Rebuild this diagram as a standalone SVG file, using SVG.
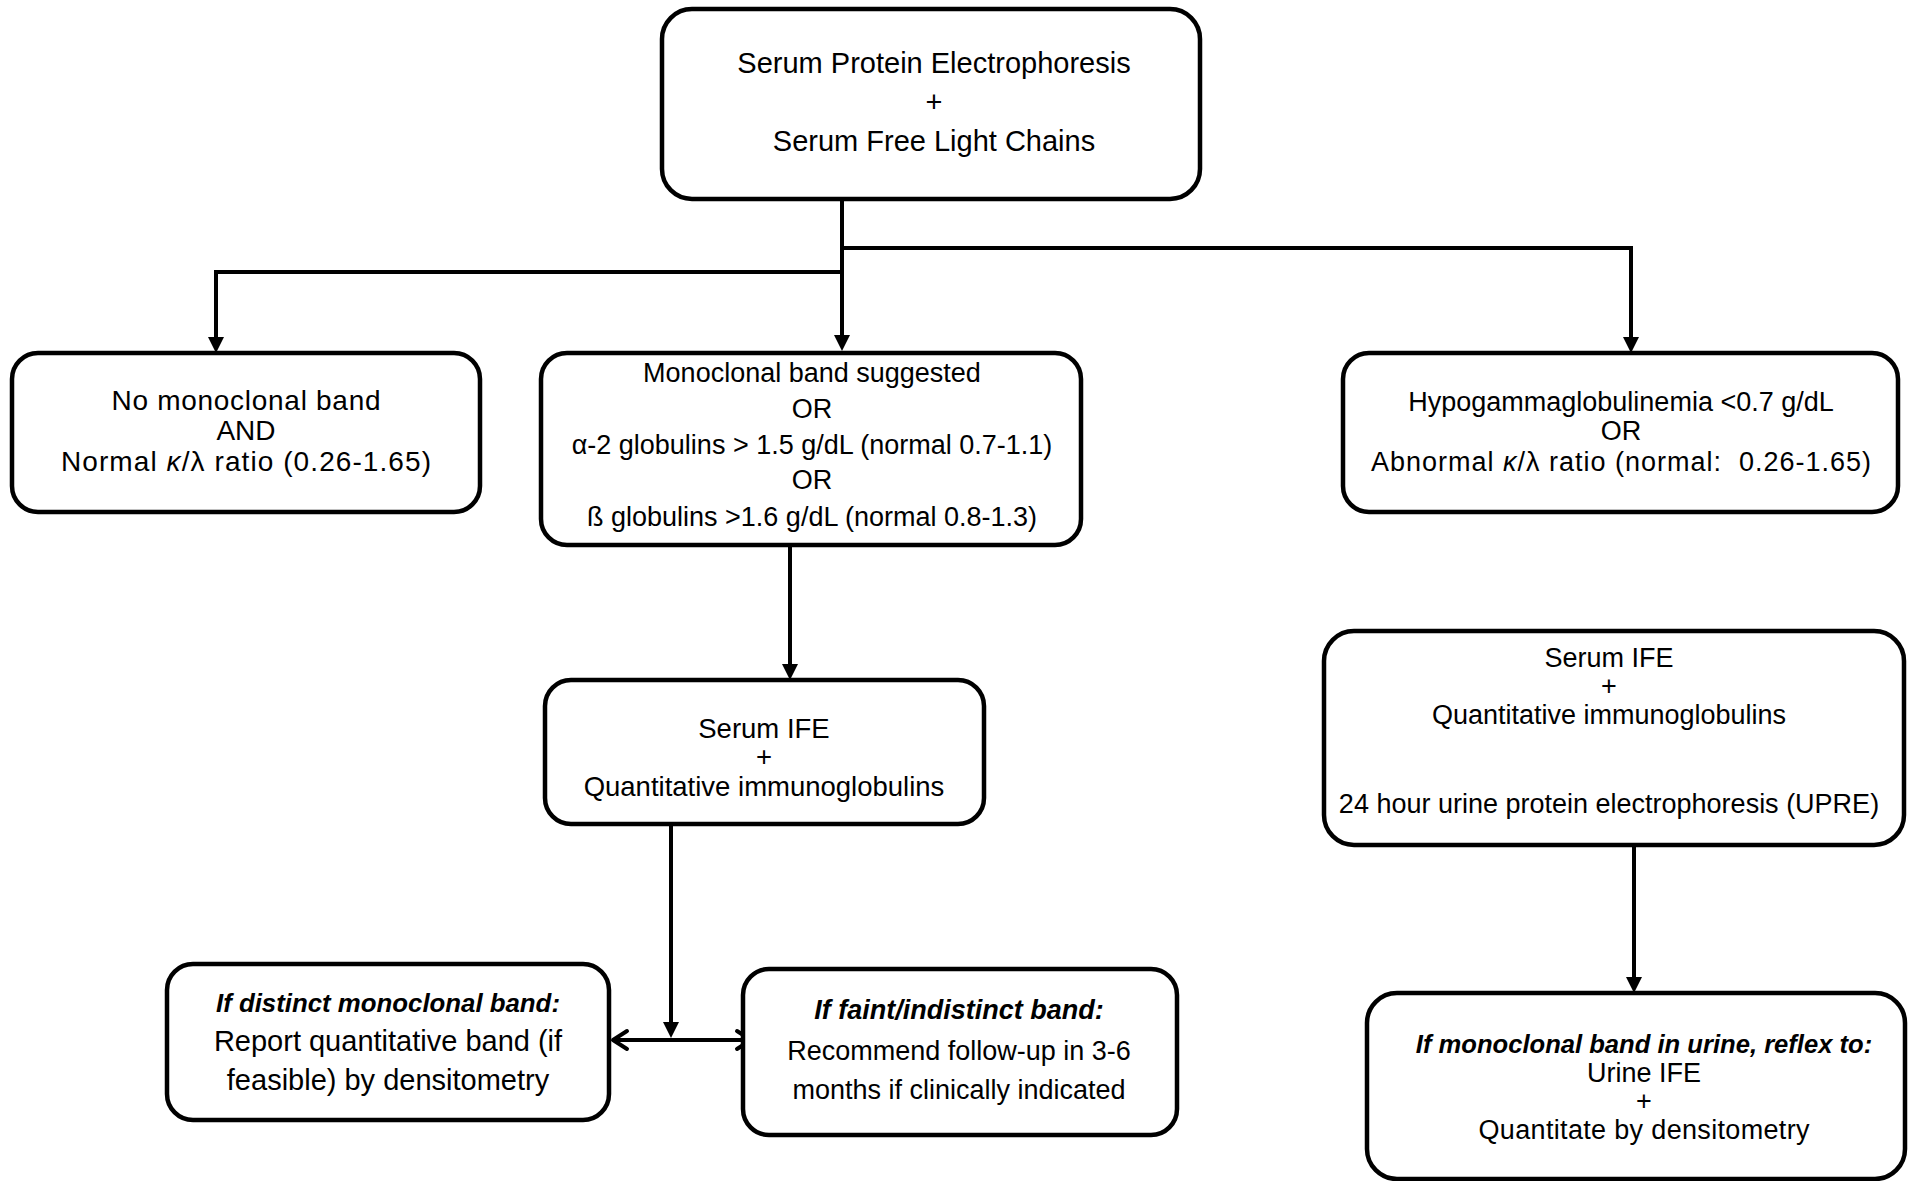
<svg xmlns="http://www.w3.org/2000/svg" width="1911" height="1181" viewBox="0 0 1911 1181">
<style>
.box{fill:#fff;stroke:#000;stroke-width:4.5}
.t{font-family:"Liberation Sans",Arial,sans-serif;font-size:27px;fill:#000;text-anchor:middle}
.bi{font-weight:bold;font-style:italic}
.it{font-style:italic}
.c{fill:none;stroke:#000;stroke-width:4}
</style>
<defs>
<marker id="ah" viewBox="0 0 16 16" refX="4" refY="8" markerWidth="16" markerHeight="16" markerUnits="userSpaceOnUse" orient="auto">
<path d="M0,0 L16,8 L0,16 z" fill="#000"/>
</marker>
<marker id="ch" viewBox="0 0 20 24" refX="17" refY="12" markerWidth="20" markerHeight="24" markerUnits="userSpaceOnUse" orient="auto-start-reverse">
<path d="M3,3 L17,12 L3,21" fill="none" stroke="#000" stroke-width="4" stroke-linecap="round" stroke-linejoin="round"/>
</marker>
</defs>
<rect width="1911" height="1181" fill="#fff"/>
<g id="connectors">
<path class="c" d="M842,199 V339" marker-end="url(#ah)"/>
<path class="c" d="M842,272 H216 V341" marker-end="url(#ah)"/>
<path class="c" d="M842,248 H1631 V341" marker-end="url(#ah)"/>
<path class="c" d="M790,545 V668" marker-end="url(#ah)"/>
<path class="c" d="M1634,845 V981" marker-end="url(#ah)"/>
<path class="c" d="M671,824 V1026" marker-end="url(#ah)"/>
<path class="c" d="M613,1040 H751" marker-start="url(#ch)" marker-end="url(#ch)"/>
</g>
<g id="n-top">
<rect class="box" x="662" y="9" width="538" height="190" rx="30"/>
<text class="t" x="934" y="73" style="font-size:29px">Serum Protein Electrophoresis</text>
<text class="t" x="934" y="112" style="font-size:29px">+</text>
<text class="t" x="934" y="151" style="font-size:29px">Serum Free Light Chains</text>
</g>
<g id="n-normal">
<rect class="box" x="12" y="353" width="468" height="159" rx="26"/>
<text class="t" x="246" y="410" style="font-size:28px" textLength="269" lengthAdjust="spacing">No monoclonal band</text>
<text class="t" x="246" y="440" style="font-size:28px">AND</text>
<text class="t" x="246" y="471" style="font-size:28px" textLength="370" lengthAdjust="spacing">Normal <tspan class="it">κ</tspan>/λ ratio (0.26-1.65)</text>
</g>
<g id="n-mono">
<rect class="box" x="541" y="353" width="540" height="192" rx="26"/>
<text class="t" x="812" y="382">Monoclonal band suggested</text>
<text class="t" x="812" y="418">OR</text>
<text class="t" x="812" y="454">α-2 globulins &gt; 1.5 g/dL (normal 0.7-1.1)</text>
<text class="t" x="812" y="489">OR</text>
<text class="t" x="812" y="526">ß globulins &gt;1.6 g/dL (normal 0.8-1.3)</text>
</g>
<g id="n-hypo">
<rect class="box" x="1343" y="353" width="555" height="159" rx="26"/>
<text class="t" x="1621" y="411">Hypogammaglobulinemia &lt;0.7 g/dL</text>
<text class="t" x="1621" y="440">OR</text>
<text class="t" x="1621" y="471" xml:space="preserve" textLength="500" lengthAdjust="spacing">Abnormal <tspan class="it">κ</tspan>/λ ratio (normal:  0.26-1.65)</text>
</g>
<g id="n-ife1">
<rect class="box" x="545" y="680" width="439" height="144" rx="26"/>
<text class="t" x="764" y="738" style="font-size:27.5px">Serum IFE</text>
<text class="t" x="764" y="766" style="font-size:27.5px">+</text>
<text class="t" x="764" y="796" style="font-size:27.5px">Quantitative immunoglobulins</text>
</g>
<g id="n-ife2">
<rect class="box" x="1324" y="631" width="580" height="214" rx="30"/>
<text class="t" x="1609" y="667">Serum IFE</text>
<text class="t" x="1609" y="695">+</text>
<text class="t" x="1609" y="724">Quantitative immunoglobulins</text>
<text class="t" x="1609" y="813">24 hour urine protein electrophoresis (UPRE)</text>
</g>
<g id="n-distinct">
<rect class="box" x="167" y="964" width="442" height="156" rx="26"/>
<text class="t bi" x="388" y="1012" style="font-size:25.8px">If distinct monoclonal band:</text>
<text class="t" x="388" y="1051" style="font-size:29px">Report quantitative band (if</text>
<text class="t" x="388" y="1090" style="font-size:29px">feasible) by densitometry</text>
</g>
<g id="n-faint">
<rect class="box" x="743" y="969" width="434" height="166" rx="26"/>
<text class="t bi" x="959" y="1019">If faint/indistinct band:</text>
<text class="t" x="959" y="1060">Recommend follow-up in 3-6</text>
<text class="t" x="959" y="1099">months if clinically indicated</text>
</g>
<g id="n-urine">
<rect class="box" x="1367" y="993" width="538" height="186" rx="30"/>
<text class="t bi" x="1644" y="1053" style="font-size:25.6px">If monoclonal band in urine, reflex to:</text>
<text class="t" x="1644" y="1082">Urine IFE</text>
<text class="t" x="1644" y="1110">+</text>
<text class="t" x="1644" y="1139" textLength="331" lengthAdjust="spacing">Quantitate by densitometry</text>
</g>
</svg>
